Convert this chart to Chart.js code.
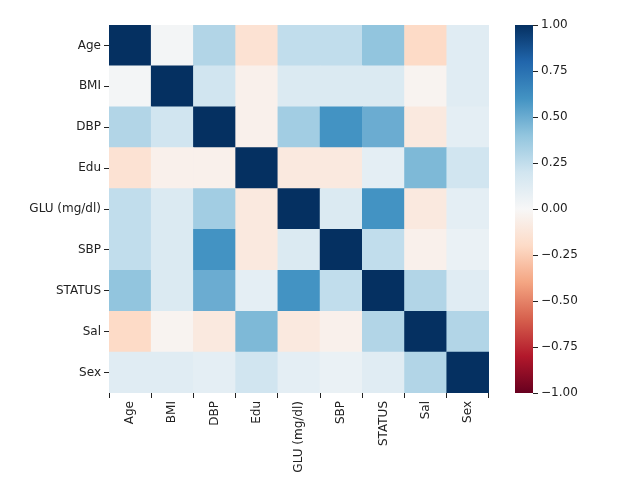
<!DOCTYPE html>
<html><head><meta charset="utf-8">
<script src="https://cdn.jsdelivr.net/npm/chart.js@4"></script>
<style>
body{margin:0;background:#fff}
canvas{position:absolute;left:0;top:0}
</style></head>
<body>
<canvas id="heat" width="624" height="495"></canvas>
<canvas id="bar" width="624" height="495"></canvas>
<script>
var labels = ["Age", "BMI", "DBP", "Edu", "GLU (mg/dl)", "SBP", "STATUS", "Sal", "Sex"];
var corr = [
  [1.00, 0.02, 0.30, -0.15, 0.25, 0.25, 0.40, -0.20, 0.12],
  [0.02, 1.00, 0.20, -0.05, 0.15, 0.15, 0.15, -0.03, 0.12],
  [0.30, 0.20, 1.00, -0.05, 0.35, 0.60, 0.50, -0.10, 0.10],
  [-0.15, -0.05, -0.05, 1.00, -0.10, -0.10, 0.10, 0.45, 0.20],
  [0.25, 0.15, 0.35, -0.10, 1.00, 0.15, 0.60, -0.10, 0.10],
  [0.25, 0.15, 0.60, -0.10, 0.15, 1.00, 0.25, -0.05, 0.07],
  [0.40, 0.15, 0.50, 0.10, 0.60, 0.25, 1.00, 0.30, 0.12],
  [-0.20, -0.03, -0.10, 0.45, -0.10, -0.05, 0.30, 1.00, 0.30],
  [0.12, 0.12, 0.10, 0.20, 0.10, 0.07, 0.12, 0.30, 1.00]
];
var cbTicks = [-1, -0.75, -0.5, -0.25, 0, 0.25, 0.5, 0.75, 1];

// RdBu, -1 red .. +1 blue
var stops = ["#67001f","#b2182b","#d6604d","#f4a582","#fddbc7","#f7f7f7","#d1e5f0","#92c5de","#4393c3","#2166ac","#053061"];
function hex(h){ return [1,3,5].map(function(i){ return parseInt(h.substr(i,2),16); }); }
function cmap(v){
  var t = (v + 1) / 2 * 10;
  var i = Math.min(9, Math.floor(t)), f = t - i;
  var a = hex(stops[i]), b = hex(stops[i+1]);
  return "rgb(" + a.map(function(c,k){ return Math.round(c + (b[k]-c)*f); }).join(",") + ")";
}

Chart.defaults.font.family = "DejaVu Sans";
Chart.defaults.font.size = 12;
Chart.defaults.color = "#222";

// dataset 0 is the bottom row (Sex)
var datasets = [];
for (var r = labels.length - 1; r >= 0; r--) {
  datasets.push({
    data: labels.map(function(){ return 1; }),
    backgroundColor: corr[r].map(cmap),
    borderWidth: 0, barPercentage: 1, categoryPercentage: 1
  });
}

new Chart(document.getElementById("heat"), {
  type: "bar",
  data: { labels: labels, datasets: datasets },
  options: {
    responsive: false, animation: false,
    layout: { padding: { top: 25, right: 135, bottom: 0, left: 0 } },
    plugins: { legend: { display: false }, tooltip: { enabled: false } },
    scales: {
      x: {
        stacked: true,
        grid: { drawOnChartArea: false, tickLength: 5, color: "#222" },
        border: { display: false },
        ticks: { minRotation: 90, maxRotation: 90 },
        afterFit: function(s){ s.height = 102; }
      },
      y: {
        stacked: true, min: 0, max: 9,
        grid: { drawOnChartArea: false, tickLength: 5, color: "#222" },
        border: { display: false },
        afterBuildTicks: function(axis){
          axis.ticks = labels.map(function(l, i){ return { value: 8.5 - i }; });
        },
        ticks: { callback: function(v){ return labels[Math.round(8.5 - v)]; } },
        afterFit: function(s){ s.width = 109; }
      }
    }
  }
});

new Chart(document.getElementById("bar"), {
  type: "bar",
  data: { labels: [""], datasets: [{
    data: [[-1, 1]],
    borderWidth: 0, barPercentage: 1, categoryPercentage: 1,
    backgroundColor: function(ctx){
      var ca = ctx.chart.chartArea;
      if (!ca) return "#fff";
      var g = ctx.chart.ctx.createLinearGradient(0, ca.bottom, 0, ca.top);
      stops.forEach(function(c, i){ g.addColorStop(i / 10, c); });
      return g;
    }
  }] },
  options: {
    responsive: false, animation: false,
    layout: { padding: { top: 25, left: 515, bottom: 102, right: 0 } },
    plugins: { legend: { display: false }, tooltip: { enabled: false } },
    scales: {
      x: { display: false },
      y: {
        position: "right", min: -1, max: 1,
        grid: { drawOnChartArea: false, tickLength: 5, color: "#222" },
        border: { display: false },
        afterBuildTicks: function(axis){
          axis.ticks = cbTicks.map(function(v){ return { value: v }; });
        },
        ticks: { callback: function(v){ return (v < 0 ? "\u2212" : "") + Math.abs(v).toFixed(2); } },
        afterFit: function(s){ s.width = 91; }
      }
    }
  }
});
</script>
</body></html>
